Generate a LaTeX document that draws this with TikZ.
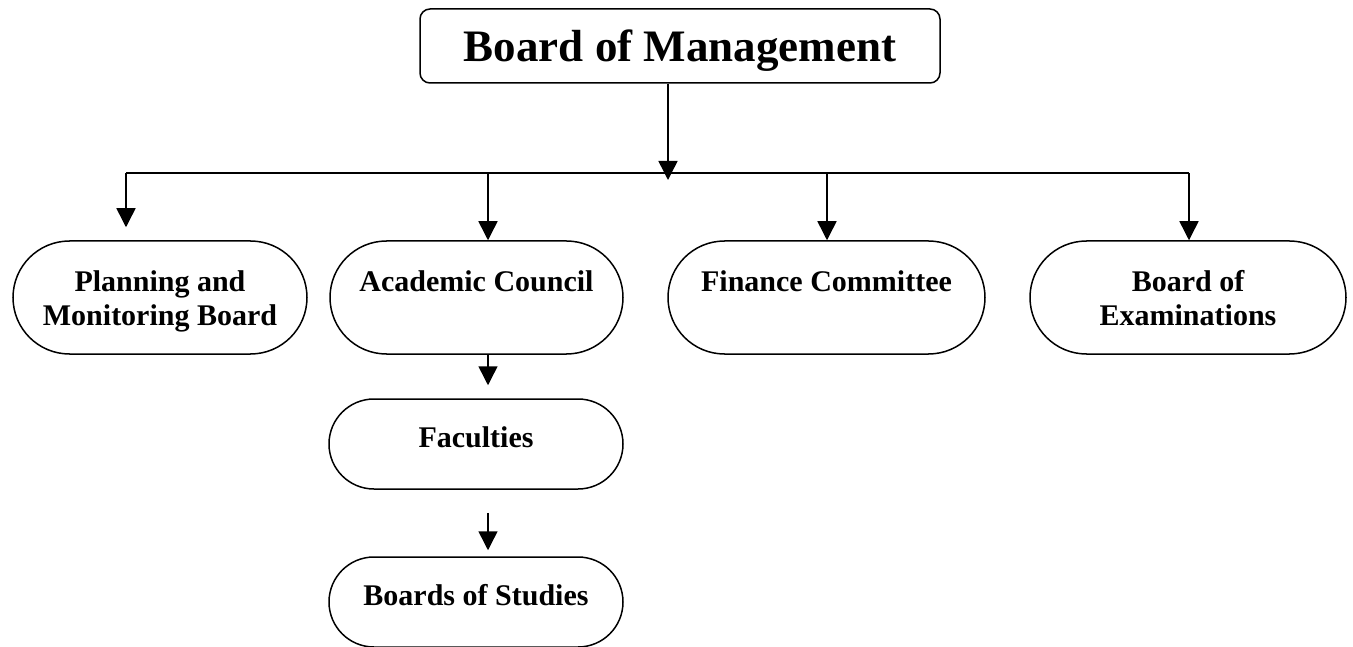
\documentclass[tikz,border=0pt]{standalone}
\usepackage{fontspec}
\setmainfont{Liberation Serif}
\usetikzlibrary{shapes.misc,arrows.meta}
\newcommand\firstrow{\rule{0pt}{30pt}}
\newcommand\lastrow{\rule[-7pt]{0pt}{7pt}}

\begin{document}
\begin{tikzpicture}[x=1pt, y=-1pt, >={Triangle[length=19pt,width=19pt]}, line width=1.5pt,
    unit/.style={draw, rounded rectangle, minimum height=113pt, inner sep=0pt, align=center, font=\fontsize{30}{34}\selectfont\bfseries},
    subunit/.style={unit, minimum height=90pt, minimum width=294pt, text depth=14pt}]
\useasboundingbox (0,0) rectangle (1353,647);

\node[draw, rounded corners=10pt, minimum width=520pt, minimum height=74pt, text depth=0pt, font=\fontsize{45}{50}\selectfont\bfseries] (bom) at (680,46) {Board of Management};

\node[unit, minimum width=294pt] (plan) at (160,297.5) {\firstrow Planning and\\Monitoring Board\lastrow};
\node[unit, minimum width=293pt] (acad) at (476.5,297.5) {\firstrow Academic Council\\\lastrow};
\node[unit, minimum width=317pt] (fin) at (826.5,297.5) {\firstrow Finance Committee\\\lastrow};
\node[unit, minimum width=316pt] (exam) at (1188,297.5) {\firstrow Board of\\Examinations\lastrow};

\node[subunit] (fac) at (476,444) {Faculties};
\node[subunit] (bos) at (476,602) {Boards of Studies};

\coordinate (hub) at (668,173);
\coordinate (busL) at (126,173);
\coordinate (busR) at (1189,173);
\coordinate (col) at (488,0);

\draw[->] (bom.south -| hub) -- ([yshift=-7pt]hub);
\draw (busL) -- (busR);
\draw[->] (busL) -- ([yshift=13pt]busL |- plan.north);
\foreach \n/\x in {acad/488, fin/827, exam/1189}
{
    \draw[->] (busL -| \x,0) -- (\n.north -| \x,0);
}

\draw[->] (acad.south -| col) -- ([yshift=13pt]fac.north -| col);
\draw[->] ([yshift=-23pt]fac.south -| col) -- ([yshift=6pt]bos.north -| col);

\end{tikzpicture}
\end{document}
